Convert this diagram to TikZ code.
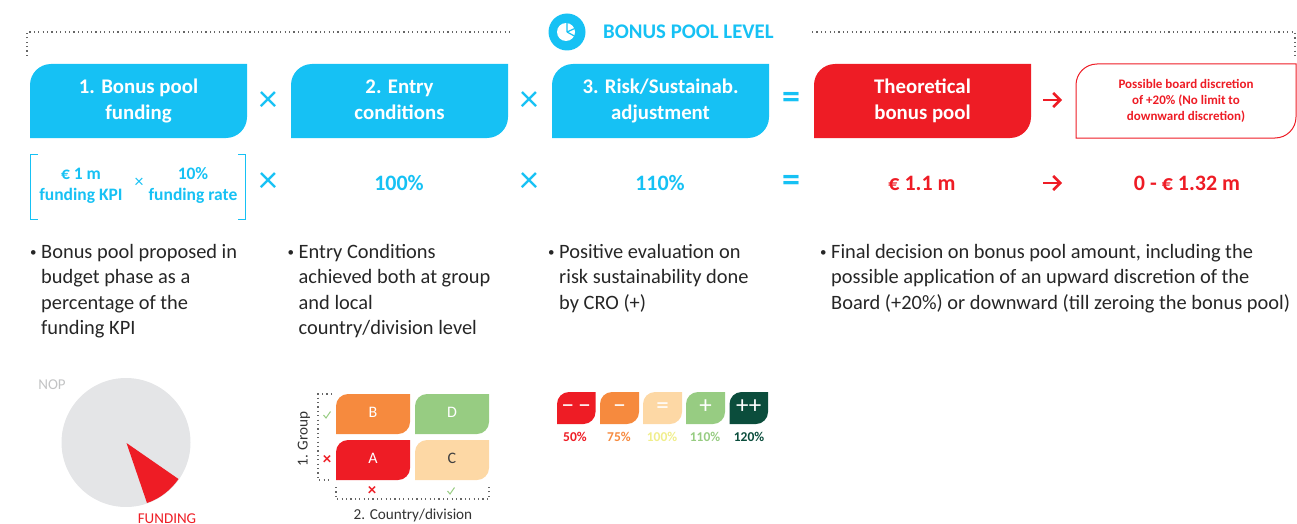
\documentclass[tikz,border=0pt]{standalone}
\usepackage{fontspec}
\setmainfont{Carlito}
\usetikzlibrary{arrows.meta}
\definecolor{poolblue}{HTML}{16C1F4}
\definecolor{poolred}{HTML}{EE1C25}
\definecolor{poolorange}{HTML}{F68A3E}
\definecolor{poolgreen}{HTML}{97CC82}
\definecolor{poolpeach}{HTML}{FDD8A5}
\definecolor{pooldark}{HTML}{0B4D3C}
\definecolor{poolgrey}{HTML}{E4E5E7}
\definecolor{poolyellow}{HTML}{F0EE8C}
\tikzset{head box/.style={inner sep=0pt,align=center,text=white,font=\fontsize{20.8}{26}\selectfont\bfseries},
         small box/.style={inner sep=0pt,align=center,text=poolred,font=\fontsize{13}{16}\selectfont\bfseries},
         matrix box/.style={inner sep=0pt,text=white,font=\fontsize{16}{18}\selectfont},
         pill box/.style={inner sep=0pt,text=white,font=\fontsize{25}{25}\selectfont},
         op node/.style={inner sep=0pt,text=poolblue,font=\fontsize{38}{38}\selectfont},
         equal node/.style={inner sep=0pt,text=poolblue,font=\fontsize{36}{36}\selectfont\bfseries},
         value node/.style={inner sep=0pt,align=center,font=\fontsize{22}{24}\selectfont\bfseries},
         kpi node/.style={inner sep=0pt,text=poolblue,align=center,font=\fontsize{17.5}{21}\selectfont\bfseries},
         note node/.style={inner sep=0pt,anchor=north west,align=left,text=black!85,font=\fontsize{20.4}{25.5}\selectfont},
         pct node/.style={inner sep=0pt,font=\fontsize{13.5}{16}\selectfont\bfseries},
         axis node/.style={inner sep=0pt,text=black!80,font=\fontsize{15.2}{18}\selectfont},
         dot line/.style={black!60,line width=1.2pt,dash pattern=on 1.2pt off 3.2pt},
         op arrow/.style={poolred,line width=2.6pt,-{Straight Barb[length=7pt,width=14pt]}}
}
\newcommand{\notemark}{\makebox[11pt][l]{\raisebox{1.5pt}{\fontsize{13}{13}\selectfont•}}}
\newcommand{\noterest}{\hspace*{11pt}}
% name, fill/draw, x0, y0, x1, y1, radius, text style, text
\newcommand{\leafbox}[9]{
    \path[#2] (#3,#6) [rounded corners=#7] -- (#3,#4) [sharp corners] -- (#5,#4)
        [rounded corners=#7] -- (#5,#6) [sharp corners] -- cycle;
    \node[#8] (#1) at ({(#3+#5)/2},{(#4+#6)/2}) {\strut #9\strut};
}
\begin{document}
\begin{tikzpicture}[x=1pt,y=-1pt]
\useasboundingbox (0,0) rectangle (1297,524);

% header
\coordinate (topleft) at (27,32);
\coordinate (topleftend) at (513,32);
\coordinate (topright) at (812,32);
\coordinate (toprightend) at (1295,32);
\coordinate (lefttick) at (27,56);
\coordinate (righttick) at (1295,56);
\draw[dot line] (lefttick) -- (topleft) -- (topleftend);
\draw[dot line] (topright) -- (toprightend) -- (righttick);
\fill[poolblue] (567,32) circle (18.5);
\fill[white] (566,32) circle (9);
\draw[poolblue,line width=1.2pt] (567,32) -- (567,21) (567,32) -- (578,27) (567,32) -- (578,38);
\node[inner sep=0pt,anchor=west,text=poolblue,font=\fontsize{20.8}{26}\selectfont\bfseries] (title) at (603,32) {BONUS POOL LEVEL};

% top row
\leafbox{funding}{fill=poolblue}{30}{64}{247}{138}{21}{head box}{1. Bonus pool\\funding}
\leafbox{entry}{fill=poolblue}{291}{64}{508}{138}{21}{head box}{2. Entry\\conditions}
\leafbox{risk}{fill=poolblue}{552}{64}{769}{138}{21}{head box}{3. Risk/Sustainab.\\adjustment}
\leafbox{theory}{fill=poolred}{814}{64}{1031}{138}{21}{head box}{Theoretical\\bonus pool}
\leafbox{board}{draw=poolred,line width=1pt,fill=white}{1076}{64}{1296}{138}{21}{small box}{Possible board discretion\\of +20\% (No limit to\\downward discretion)}
\node[op node] (timesa) at (268,102) {×};
\node[op node] (timesb) at (529,102) {×};
\node[equal node] (equalsa) at (791,100) {=};
\coordinate (arrowc) at (1043,100);
\coordinate (arrowd) at (1062,100);
\draw[op arrow] (arrowc) -- (arrowd);

% second row
\draw[poolblue,line width=1pt] (38,154) -- (30.5,154) -- (30.5,219) -- (38,219);
\draw[poolblue,line width=1pt] (238,154) -- (245.5,154) -- (245.5,219) -- (238,219);
\node[kpi node] (kpi) at (81,185.5) {€ 1 m\\funding KPI};
\node[inner sep=0pt,text=poolblue,font=\fontsize{18}{18}\selectfont] (timeskpi) at (139,183) {×};
\node[kpi node] (rate) at (193,185.5) {10\%\\funding rate};
\node[op node] (timesc) at (268,183) {×};
\node[value node,text=poolblue] (entryval) at (399,183) {100\%};
\node[op node] (timesd) at (529,183) {×};
\node[value node,text=poolblue] (riskval) at (660,183) {110\%};
\node[equal node] (equalsb) at (791,183) {=};
\node[value node,text=poolred] (theoryval) at (922,183) {€ 1.1 m};
\coordinate (arrowa) at (1043,183);
\coordinate (arrowb) at (1062,183);
\draw[op arrow] (arrowa) -- (arrowb);
\node[value node,text=poolred] (boardval) at (1187,183) {0 - € 1.32 m};

% notes
\node[note node] (notea) at (30,244) {\notemark Bonus pool proposed in\\\noterest budget phase as a\\\noterest percentage of the\\\noterest funding KPI};
\node[note node] (noteb) at (287.5,244) {\notemark Entry Conditions\\\noterest achieved both at group\\\noterest and local\\\noterest country/division level};
\node[note node] (notec) at (548,244) {\notemark Positive evaluation on\\\noterest risk sustainability done\\\noterest by CRO (+)};
\node[note node] (noted) at (820,244) {\notemark Final decision on bonus pool amount, including the\\\noterest possible application of an upward discretion of the\\\noterest Board (+20\%) or downward (till zeroing the bonus pool)};

% pie
\fill[poolgrey] (126,442.5) circle (64.5);
\fill[poolred] (126.5,443) -- (178.5,479) .. controls (170.8,490.1) and (159.8,498.7) .. (147,503) -- cycle;
\node[inner sep=0pt,text=poolgrey!85!black,font=\fontsize{15}{18}\selectfont] (nop) at (52,385) {NOP};
\node[inner sep=0pt,text=poolred,font=\fontsize{15}{18}\selectfont] (fund) at (167,519) {FUNDING};

% matrix
\leafbox{boxb}{fill=poolorange}{336}{394}{410}{434}{12}{matrix box}{B}
\leafbox{boxd}{fill=poolgreen}{415}{394}{489}{434}{12}{matrix box}{D}
\leafbox{boxa}{fill=poolred}{336}{440}{410}{480}{12}{matrix box}{A}
\leafbox{boxc}{fill=poolpeach}{415}{440}{489}{480}{12}{matrix box,text=black!75}{C}
\coordinate (groupa) at (332,394);
\coordinate (groupb) at (318,394);
\coordinate (groupc) at (318,480);
\coordinate (groupd) at (332,480);
\coordinate (countrya) at (336,487);
\coordinate (countryb) at (336,499);
\coordinate (countryc) at (489,499);
\coordinate (countryd) at (489,487);
\draw[dot line] (groupa) -- (groupb) -- (groupc) -- (groupd);
\draw[dot line] (countrya) -- (countryb) -- (countryc) -- (countryd);
\node[axis node,rotate=90] (group) at (304,439) {1. Group};
\node[axis node] (country) at (413,515) {2. Country/division};
\foreach \name/\x/\y in {marka/327/460,markb/372/491}
    \node[inner sep=0pt,text=poolred,font=\fontsize{17}{17}\selectfont\bfseries] (\name) at (\x,\y) {×};
\foreach \x/\y in {327/415,451/491}
    \draw[poolgreen,line width=1pt] (\x-3.5,\y) -- (\x-1,\y+3) -- (\x+3.5,\y-3.5);

% risk scale
\leafbox{pilla}{fill=poolred}{557}{392}{595.5}{424}{12}{pill box}{−\,−}
\leafbox{pillb}{fill=poolorange}{600}{392}{639}{424}{12}{pill box}{−}
\leafbox{pillc}{fill=poolpeach}{643}{392}{682}{424}{12}{pill box}{=}
\leafbox{pilld}{fill=poolgreen}{686}{392}{725}{424}{12}{pill box}{+}
\leafbox{pille}{fill=pooldark}{729.5}{392}{768}{424}{12}{pill box}{++}
\node[pct node,text=poolred] (pcta) at (575,437) {50\%};
\node[pct node,text=poolorange] (pctb) at (619,437) {75\%};
\node[pct node,text=poolyellow] (pctc) at (662,437) {100\%};
\node[pct node,text=poolgreen] (pctd) at (705,437) {110\%};
\node[pct node,text=pooldark] (pcte) at (749,437) {120\%};
\end{tikzpicture}
\end{document}
